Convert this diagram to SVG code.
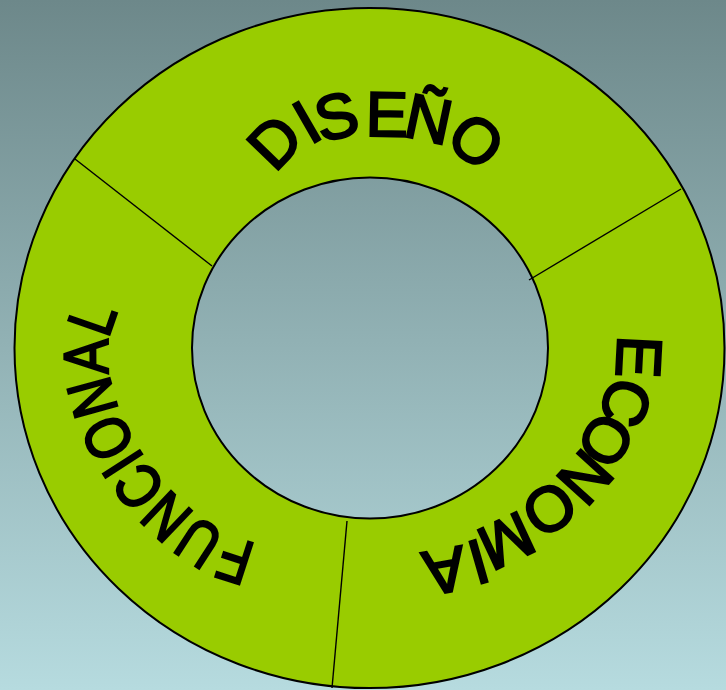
<svg xmlns="http://www.w3.org/2000/svg" width="726" height="690" viewBox="0 0 726 690">
<defs>
<linearGradient id="bg" x1="0" y1="0" x2="0" y2="1">
<stop offset="0" stop-color="#6d888a"/>
<stop offset="1" stop-color="#b6dbdf"/>
</linearGradient>
<path id="pf" d="M257,543 C178,533 72,388 120,310"/>
</defs>
<style>
.ring{fill:#99cc00;fill-rule:evenodd;stroke:#000;stroke-width:2}
.div{stroke:#000;stroke-width:1.4;fill:none}
.t{font-family:"Liberation Sans",Arial,sans-serif;font-size:63px;fill:#000;stroke:#000;stroke-width:2.4;text-anchor:middle}
.tp{font-family:"Liberation Sans",Arial,sans-serif;font-size:63px;fill:#000;stroke:#000;stroke-width:2.4}
</style>
<rect width="726" height="690" fill="url(#bg)"/>
<g id="ring">
<path class="ring" d="M14.5,348 a355,340 0 1,0 710,0 a355,340 0 1,0 -710,0 Z M192,348 a178,170.5 0 1,0 356,0 a178,170.5 0 1,0 -356,0 Z"/>
</g>
<g id="connectors">
<line class="div" x1="75" y1="159" x2="212" y2="266"/>
<line class="div" x1="681" y1="189" x2="529" y2="280"/>
<line class="div" x1="347" y1="521" x2="332" y2="688"/>
</g>
<g id="diseno">
<text class="t" transform="translate(274,141) rotate(-46)" y="23">D</text>
<text class="t" transform="translate(306,121) rotate(-30)" y="23">I</text>
<text class="t" transform="translate(336,115) rotate(-14)" y="23">S</text>
<text class="t" transform="translate(387,113) rotate(1)" y="23">E</text>
<text class="t" transform="translate(429,118) rotate(12)" y="23">Ñ</text>
<text class="t" transform="translate(477,140) rotate(40)" y="23">O</text>
</g>
<g id="economia">
<text class="t" transform="translate(640,357) rotate(93)" y="23">E</text>
<text class="t" transform="translate(627,403) rotate(110)" y="23">C</text>
<text class="t" transform="translate(607,441) rotate(122)" y="23">O</text>
<text class="t" transform="translate(586,478) rotate(132)" y="23">N</text>
<text class="t" transform="translate(550,510) rotate(145)" y="23">O</text>
<text class="t" transform="translate(507,542) rotate(155)" y="23">M</text>
<text class="t" transform="translate(479,563) rotate(164)" y="23">I</text>
<text class="t" transform="translate(445,572) rotate(170)" y="23">A</text>
</g>
<g id="funcional">
<text class="tp"><textPath href="#pf" textLength="300" lengthAdjust="spacingAndGlyphs">FUNCIONAL</textPath></text>
</g>
</svg>
